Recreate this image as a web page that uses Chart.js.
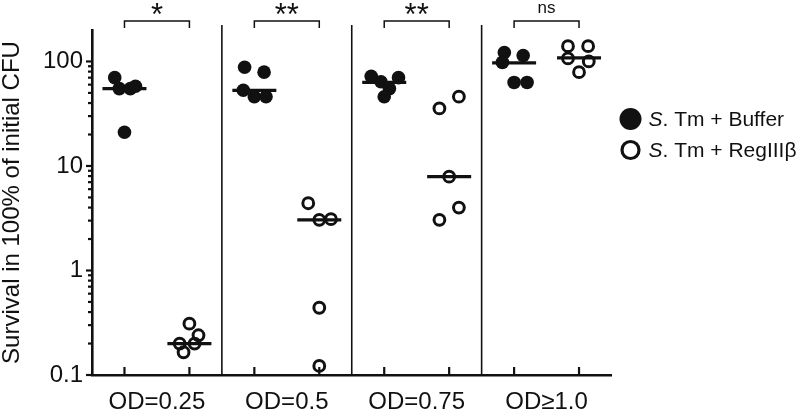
<!DOCTYPE html>
<html>
<head>
<meta charset="utf-8">
<title>Survival</title>
<script src="https://cdn.jsdelivr.net/npm/chart.js@4.4.1/dist/chart.umd.min.js"></script>
<style>
    html, body { margin: 0; padding: 0; background: #fff; }
    #chart { display: block; }
</style>
</head>
<body>
<canvas id="chart" width="798" height="413"></canvas>
<script>
/* =================== S. Tm survival vs RegIIIβ =================== */

const groups = ['OD=0.25', 'OD=0.5', 'OD=0.75', 'OD\u22651.0'];
const yTicks = [0.1, 1, 10, 100];
const stars = ['*', '**', '**', 'ns'];

// survival in % of initial CFU, 5 replicates per group
const bufferValues = [
    [70, 55, 55, 58, 21],
    [88, 79, 53, 46, 46],
    [72, 64, 70, 55, 46],
    [122, 114, 98, 63, 63]
];
const regValues = [
    [0.31, 0.20, 0.24, 0.20, 0.165],
    [4.4, 3.05, 3.1, 0.44, 0.122],
    [46, 35.5, 7.9, 4.0, 3.05],
    [140, 140, 107, 100, 79]
];
// sideways scatter of the dots, in x units
const bufferJitter = [
    [-0.15, -0.08, 0.09, 0.17, 0],
    [-0.15, 0.15, -0.17, 0, 0.18],
    [-0.2, -0.05, 0.22, 0.08, 0],
    [-0.15, 0.14, -0.18, 0, 0.2]
];
const regJitter = [
    [0, -0.15, 0.14, 0.08, -0.09],
    [-0.17, 0, 0.18, 0, 0],
    [0.15, -0.15, 0, 0.15, -0.15],
    [-0.17, 0.14, -0.17, 0.15, 0]
];
const bufferMedian = [55, 53, 63, 97];
const regMedian = [0.20, 3.05, 7.9, 108];

const FONT = '"Liberation Sans", Arial, sans-serif';
const INK = '#111';

function toPoints(values, jitter, offset) {
    const pts = [];
    values.forEach((row, g) => row.forEach((v, i) => pts.push({ x: g * 2 + offset + jitter[g][i], y: v })));
    return pts;
}
function medianPoints(meds, offset) {
    return meds.map((v, g) => ({ x: g * 2 + offset, y: v }));
}

function line(ctx, x1, y1, x2, y2) {
    ctx.beginPath();
    ctx.moveTo(x1, y1);
    ctx.lineTo(x2, y2);
    ctx.stroke();
}

// tick marks, separators, brackets and the legend
const decor = {
    id: 'decor',
    afterDraw(chart) {
        const { ctx, chartArea: a, scales: { x, y } } = chart;
        ctx.save();
        ctx.strokeStyle = INK;
        ctx.fillStyle = INK;

        // x ticks point inward
        ctx.lineWidth = 2.2;
        for (let i = 0; i < groups.length * 2; i++) {
            const px = x.getPixelForValue(i);
            line(ctx, px, a.bottom, px, a.bottom - 8);
        }

        // y ticks, log minor ticks
        yTicks.forEach(d => {
            const py = y.getPixelForValue(d);
            line(ctx, a.left - 6, py, a.left, py);
            if (d >= 100) return;
            for (let m = 2; m <= 9; m++) {
                const pm = y.getPixelForValue(d * m);
                line(ctx, a.left - 4, pm, a.left, pm);
            }
        });

        // group separators
        ctx.lineWidth = 1.6;
        for (let g = 1; g < groups.length; g++) {
            const px = x.getPixelForValue(g * 2 - 0.5);
            line(ctx, px, a.top - 5, px, a.bottom);
        }

        // significance brackets
        ctx.textAlign = 'center';
        ctx.textBaseline = 'alphabetic';
        ctx.lineWidth = 1.5;
        stars.forEach((s, g) => {
            const x1 = x.getPixelForValue(g * 2);
            const x2 = x.getPixelForValue(g * 2 + 1);
            const yb = a.top - 9;
            ctx.beginPath();
            ctx.moveTo(x1, yb + 7);
            ctx.lineTo(x1, yb);
            ctx.lineTo(x2, yb);
            ctx.lineTo(x2, yb + 7);
            ctx.stroke();
            if (s === 'ns') {
                ctx.font = '17px ' + FONT;
                ctx.fillText(s, (x1 + x2) / 2, 13);
            } else {
                ctx.font = '31px ' + FONT;
                ctx.fillText(s, (x1 + x2) / 2, 25);
            }
        });

        // legend
        const lx = a.right + 19;
        const rows = [
            { y: 119, filled: true, text: '. Tm + Buffer' },
            { y: 150, filled: false, text: '. Tm + RegIII\u03b2' }
        ];
        rows.forEach(r => {
            ctx.beginPath();
            if (r.filled) {
                ctx.arc(lx, r.y, 11, 0, Math.PI * 2);
                ctx.fill();
            } else {
                ctx.lineWidth = 3.2;
                ctx.arc(lx, r.y, 8.5, 0, Math.PI * 2);
                ctx.stroke();
            }
            ctx.textAlign = 'left';
            ctx.textBaseline = 'middle';
            ctx.font = 'italic 21px ' + FONT;
            ctx.fillText('S', lx + 18, r.y + 1);
            const w = ctx.measureText('S').width;
            ctx.font = '21px ' + FONT;
            ctx.fillText(r.text, lx + 18 + w, r.y + 1);
        });
        ctx.restore();
    }
};

new Chart(document.getElementById('chart'), {
    type: 'scatter',
    data: {
        datasets: [
            {
                label: 'S. Tm + Buffer',
                data: toPoints(bufferValues, bufferJitter, 0),
                pointRadius: 6.8,
                pointBackgroundColor: INK,
                pointBorderWidth: 0,
                clip: false
            },
            {
                label: 'S. Tm + RegIIIβ',
                data: toPoints(regValues, regJitter, 1),
                pointRadius: 5.4,
                pointBackgroundColor: 'rgba(0,0,0,0)',
                pointBorderColor: INK,
                pointBorderWidth: 3,
                clip: false
            },
            {
                label: 'median',
                data: medianPoints(bufferMedian, 0).concat(medianPoints(regMedian, 1)),
                pointStyle: 'line',
                pointRadius: 22,
                pointBorderColor: INK,
                pointBorderWidth: 3.2,
                clip: false
            }
        ]
    },
    options: {
        responsive: false,
        animation: false,
        events: [],
        layout: { padding: { left: 0, right: 186.5, top: 30, bottom: 0 } },
        plugins: { legend: { display: false }, tooltip: { enabled: false } },
        scales: {
            x: {
                type: 'linear',
                min: -0.5,
                max: groups.length * 2 - 0.5,
                grid: { display: false, drawTicks: false },
                border: { display: true, color: INK, width: 2.6 },
                afterBuildTicks: s => { s.ticks = groups.map((g, i) => ({ value: i * 2 + 0.5 })); },
                afterFit: s => { s.height = 38; },
                ticks: {
                    padding: 13,
                    maxRotation: 0,
                    autoSkip: false,
                    color: INK,
                    font: { family: FONT, size: 24 },
                    callback: v => groups[Math.round((v - 0.5) / 2)]
                }
            },
            y: {
                type: 'logarithmic',
                min: 0.1,
                max: 200,
                grid: { display: false, drawTicks: false },
                border: { display: true, color: INK, width: 2.6 },
                afterBuildTicks: s => { s.ticks = yTicks.map(v => ({ value: v })); },
                afterFit: s => { s.width = 92; },
                ticks: {
                    padding: 9,
                    color: INK,
                    font: { family: FONT, size: 24 },
                    callback: v => String(v)
                },
                title: {
                    display: true,
                    text: 'Survival in 100% of initial CFU',
                    color: INK,
                    font: { family: FONT, size: 24, lineHeight: 1 },
                    padding: { top: 0, bottom: 0 }
                }
            }
        }
    },
    plugins: [decor]
});
</script>
</body>
</html>
